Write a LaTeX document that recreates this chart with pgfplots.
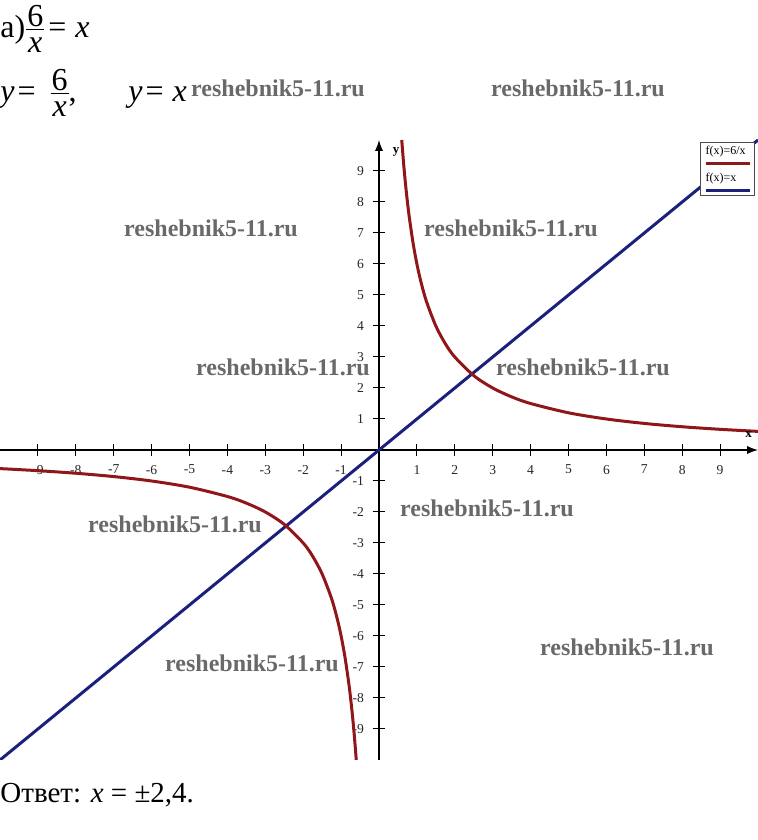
\documentclass[border=0pt]{standalone}
\usepackage{pgfplots}
\pgfplotsset{compat=1.18}
\usepackage{fontspec}
\setmainfont{Liberation Serif}
\definecolor{fred}{RGB}{145,22,26}
\definecolor{fblue}{RGB}{28,32,125}
\definecolor{wmgray}{RGB}{105,105,105}
\newcommand{\wm}{reshebnik5-11.ru}

% a fraction set in the text font, as in the scan
\newlength\frw
\newsavebox\frn
\newsavebox\frd
\newcommand{\fr}[2]{\mbox{\sbox\frn{#1}\sbox\frd{#2}%
  \setlength\frw{\wd\frn}\ifdim\wd\frd>\frw \setlength\frw{\wd\frd}\fi
  \addtolength\frw{1pt}%
  \raisebox{5.6pt}{\makebox[\frw]{\usebox\frn}}%
  \kern-\frw\raisebox{3.8pt}{\rule{\frw}{0.6pt}}%
  \kern-\frw\raisebox{-7.6pt}{\makebox[\frw]{\usebox\frd}}}}

\begin{document}
\begin{tikzpicture}[x=0.5pt,y=0.5pt]
\useasboundingbox (0,0) rectangle (758,840);

% the two functions
\begin{axis}[
    at={(0pt,40pt)}, anchor=south west,
    scale only axis,
    width=379pt, height=310pt,
    xmin=-10, xmax=10,
    ymin=-10, ymax=10,
    axis lines=middle,
    axis line style={line width=0.9pt, -latex},
    tick align=center,
    major tick length=6pt,
    tick style={black, line width=0.5pt},
    xtick={-9,-8,-7,-6,-5,-4,-3,-2,-1,1,2,3,4,5,6,7,8,9},
    xticklabels={-9,-8,-7,-6,-5,-4,-3,-2,-1,1,2,3,4,5,6,7,8,9},
    ytick={-9,-8,-7,-6,-5,-4,-3,-2,-1,1,2,3,4,5,6,7,8,9},
    yticklabels={-9,-8,-7,-6,-5,-4,-3,-2,-1,1,2,3,4,5,6,7,8,9},
    ticklabel style={font=\fontsize{6.8}{8}\selectfont, black!85},
    xticklabel style={yshift=-1pt},
    yticklabel style={xshift=-1pt},
]
\addplot[fblue, line width=1.5pt] coordinates {(-10,-10) (10,10)};
\addplot[fred, line width=1.5pt, smooth] coordinates {
    (0.6,10) (0.65,9.231) (0.7,8.571) (0.75,8) (0.8,7.5) (0.9,6.667)
    (1,6) (1.1,5.455) (1.25,4.8) (1.5,4) (1.75,3.429) (2,3) (2.5,2.4)
    (3,2) (3.5,1.714) (4,1.5) (5,1.2) (6,1) (7,0.857) (8,0.75)
    (9,0.667) (10,0.6)
};
\addplot[fred, line width=1.5pt, smooth] coordinates {
    (-10,-0.6) (-9,-0.667) (-8,-0.75) (-7,-0.857) (-6,-1) (-5,-1.2)
    (-4,-1.5) (-3.5,-1.714) (-3,-2) (-2.5,-2.4) (-2,-3) (-1.75,-3.429)
    (-1.5,-4) (-1.25,-4.8) (-1.1,-5.455) (-1,-6) (-0.9,-6.667)
    (-0.8,-7.5) (-0.75,-8) (-0.7,-8.571) (-0.65,-9.231) (-0.6,-10)
};
\node[font=\fontsize{6.5}{7}\selectfont\bfseries] at (axis cs:9.75,0.5) {x};
\node[font=\fontsize{6.5}{7}\selectfont\bfseries] at (axis cs:0.45,9.6) {y};
\end{axis}

% legend
\node[draw=black!70, line width=0.4pt, fill=white, anchor=north east,
      inner xsep=2.5pt, inner ysep=2pt, align=left,
      font=\fontsize{6}{7.5}\selectfont]
  at (755,698) {f(x)=6/x\\[-2.5pt]{\color{fred}\rule{22pt}{1.4pt}}\\[1pt]
                f(x)=x\\[-2.5pt]{\color{fblue}\rule{22pt}{1.4pt}}};

% equations
\begin{scope}[every node/.style={font=\fontsize{16}{18}\selectfont, inner sep=0pt}]
\node[anchor=base west] at (0,802.5)
  {а)\kern0.5pt\fr{6}{\textit{x}}\kern2pt=\kern4.5pt\textit{x}};
\node[anchor=base west] at (0,738.5)
  {\textit{y}\kern1.5pt=\kern7.5pt\fr{6}{\textit{x}},};
\node[anchor=base west] at (128,738.5) {\textit{y}\kern1.5pt=\kern4.5pt\textit{x}};
\node[anchor=base west, font=\fontsize{14.5}{16}\selectfont] at (0,37)
  {Ответ: \textit{x} = ±2,4.};
\end{scope}

% watermarks
\begin{scope}[every node/.style={font=\fontsize{12}{14}\selectfont\bfseries,
                                 text=wmgray, anchor=base, inner sep=0pt}]
\node at (278,743) {\wm};
\node at (578,743) {\wm};
\node at (211,603) {\wm};
\node at (511,603) {\wm};
\node at (283,464) {\wm};
\node at (583,464) {\wm};
\node at (175,307) {\wm};
\node at (487,323) {\wm};
\node at (252,168) {\wm};
\node at (627,184) {\wm};
\end{scope}
\end{tikzpicture}
\end{document}
